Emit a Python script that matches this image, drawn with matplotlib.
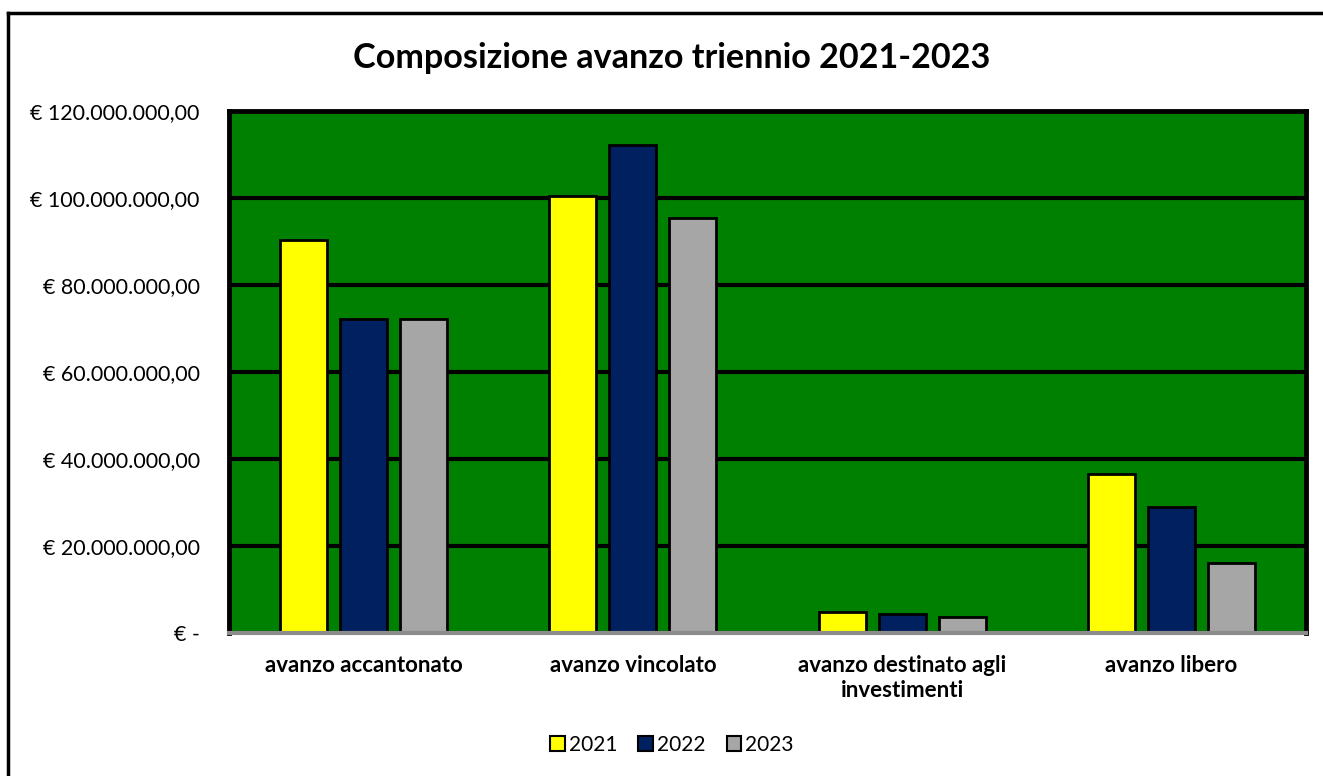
import matplotlib
matplotlib.use("Agg")
import matplotlib.pyplot as plt
from matplotlib.patches import Patch
from matplotlib.lines import Line2D
from matplotlib.ticker import FuncFormatter, MultipleLocator
import numpy as np

categories = ["avanzo accantonato", "avanzo vincolato",
              "avanzo destinato agli\ninvestimenti", "avanzo libero"]
years = ["2021", "2022", "2023"]
val_2021 = [90.3e6, 100.5e6, 4.8e6, 36.6e6]
val_2022 = [72.2e6, 112.2e6, 4.4e6, 29.0e6]
val_2023 = [72.2e6, 95.4e6, 3.7e6, 16.1e6]
colors = ["#FFFF00", "#002060", "#A6A6A6"]

plt.rcParams["font.family"] = ["Lato", "DejaVu Sans"]


def euro(v, pos):
    if v == 0:
        return "€ -"
    s = f"{v:,.2f}".replace(",", "X").replace(".", ",").replace("X", ".")
    return "€ " + s


fig = plt.figure(figsize=(13.23, 7.76), dpi=100)
ax = fig.add_axes([229 / 1323, 1 - 633 / 776, 1077 / 1323, 522 / 776])
ax.set_facecolor("#008000")

x = np.arange(len(categories))
w = 0.175
step = 0.223
for i, (vals, c) in enumerate(zip([val_2021, val_2022, val_2023], colors)):
    ax.bar(x + (i - 1) * step, vals, width=w, color=c,
           edgecolor="black", linewidth=2, zorder=3)

ax.set_xlim(-0.5, 3.5)
ax.set_ylim(0, 120e6)
ax.yaxis.set_major_locator(MultipleLocator(20e6))
ax.yaxis.set_major_formatter(FuncFormatter(euro))
ax.grid(axis="y", color="black", linewidth=3, zorder=1)

for side in ["top", "left", "right"]:
    ax.spines[side].set_color("black")
    ax.spines[side].set_linewidth(3.5)
ax.spines["bottom"].set_color("#8C8C8C")
ax.spines["bottom"].set_linewidth(3)
ax.spines["bottom"].set_zorder(4)

ax.set_xticks(x)
ax.set_xticklabels(categories, fontsize=16, fontweight="bold",
                   linespacing=1.25)
ax.tick_params(axis="x", length=0, pad=16)
ax.tick_params(axis="y", length=0, pad=21, labelsize=15.5)

fig.text(0.508, 1 - 58 / 776, "Composizione avanzo triennio 2021-2023",
         ha="center", va="center", fontsize=24.6, fontweight="bold")

handles = [Patch(facecolor=c, edgecolor="black", linewidth=1.5, label=y)
           for c, y in zip(colors, years)]
fig.legend(handles=handles, loc="center", bbox_to_anchor=(0.508, 1 - 745 / 776),
           ncol=3, frameon=False, fontsize=15, handlelength=0.7,
           handleheight=0.7, handletextpad=0.2, columnspacing=1.0)

# outer chart border
fig.add_artist(Line2D([8 / 1323, 1], [1 - 13 / 776, 1 - 13 / 776],
                      color="black", linewidth=2.5, transform=fig.transFigure))
fig.add_artist(Line2D([8 / 1323, 8 / 1323], [0, 1 - 13 / 776],
                      color="black", linewidth=2.5, transform=fig.transFigure))

fig.savefig("out.png", dpi=100, facecolor="white")
